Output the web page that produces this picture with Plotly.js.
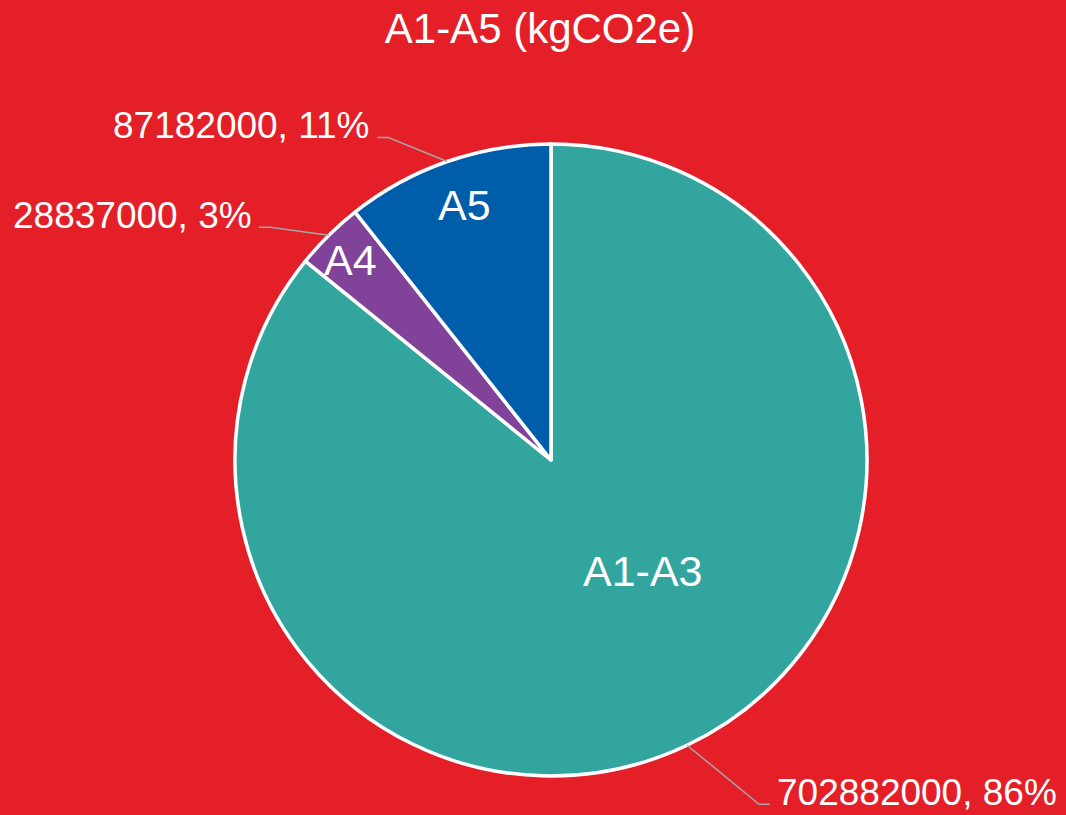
<!DOCTYPE html>
<html>
<head>
<meta charset="utf-8">
<script src="https://cdn.plot.ly/plotly-3.0.1.min.js"></script>
<style>
  html, body { margin: 0; padding: 0; background: #E41F28; }
  #chart { width: 1066px; height: 815px; }
</style>
</head>
<body>
<div id="chart"></div>
<script>
// Emissions by life-cycle stage, kgCO2e
const stages = ['A1-A3', 'A4', 'A5'];
const emissions = [702882000, 28837000, 87182000];
const sliceColors = ['#33A59F', '#81439A', '#005DAA'];

// Page and plot-area geometry (px)
const W = 1066, H = 815;
const M = { l: 100, r: 64, t: 144, b: 39 };
const plotW = W - M.l - M.r, plotH = H - M.t - M.b;
const cx = M.l + plotW / 2, cy = M.t + plotH / 2;
const R = Math.min(plotW, plotH) / 2;

// Leader-line elbow offset from the slice edge (px)
const leaderElbow = [[72, 59], [-59, -8], [-59, -24]];
// Inside name placement: [fraction of radius, angle shift in degrees from the slice middle]
const namePlacement = [[0.46, -13.7], [0.89, -0.7], [0.845, 0.2]];
const stub = 11, gap = 5;
const FONT = 'Liberation Sans, Arial, sans-serif';
const outFont = { family: FONT, size: 37, color: '#FFFFFF' };
const nameFont = { family: FONT, size: 43, color: '#FFFFFF' };

const toPaperX = px => (px - M.l) / plotW;
const toPaperY = py => (M.t + plotH - py) / plotH;

// Whole-number percentages that add up to 100 (largest remainder)
const total = emissions.reduce((a, b) => a + b, 0);
const rawPct = emissions.map(v => v / total * 100);
const pct = rawPct.map(Math.floor);
let left = 100 - pct.reduce((a, b) => a + b, 0);
rawPct.map((p, i) => [p - Math.floor(p), i])
  .sort((a, b) => b[0] - a[0])
  .slice(0, left)
  .forEach(([, i]) => { pct[i] += 1; });

const shapes = [];
const annotations = [];
let acc = 0;
emissions.forEach((v, i) => {
  const frac = v / total;
  const mid = (acc + frac / 2) * 2 * Math.PI; // clockwise from 12 o'clock
  acc += frac;

  // value, percent label with leader line
  const ex = cx + R * Math.sin(mid), ey = cy - R * Math.cos(mid);
  const bx = ex + leaderElbow[i][0], by = ey + leaderElbow[i][1];
  const side = leaderElbow[i][0] >= 0 ? 1 : -1;
  const hx = bx + side * stub;
  shapes.push({
    type: 'path', xref: 'paper', yref: 'paper',
    path: `M ${toPaperX(ex)},${toPaperY(ey)} L ${toPaperX(bx)},${toPaperY(by)} L ${toPaperX(hx)},${toPaperY(by)}`,
    line: { color: '#A6A6A6', width: 1.5 }
  });
  annotations.push({
    xref: 'paper', yref: 'paper',
    x: toPaperX(hx + side * gap), y: toPaperY(by - 12),
    xanchor: side > 0 ? 'left' : 'right', yanchor: 'middle',
    text: `${v}, ${pct[i]}%`,
    showarrow: false, font: outFont
  });

  // stage name inside the slice
  const a = mid + namePlacement[i][1] * Math.PI / 180;
  const rr = namePlacement[i][0] * R;
  annotations.push({
    xref: 'paper', yref: 'paper',
    x: toPaperX(cx + rr * Math.sin(a)), y: toPaperY(cy - rr * Math.cos(a) - 2),
    xanchor: 'center', yanchor: 'middle',
    text: stages[i], showarrow: false, font: nameFont
  });
});

const trace = {
  type: 'pie',
  labels: stages,
  values: emissions,
  sort: false,
  direction: 'clockwise',
  rotation: 0,
  marker: { colors: sliceColors, line: { color: '#FFFFFF', width: 3.5 } },
  textinfo: 'none',
  hoverinfo: 'label+value+percent',
  showlegend: false
};

const layout = {
  width: W, height: H,
  paper_bgcolor: '#E41F28',
  plot_bgcolor: '#E41F28',
  margin: M,
  title: {
    text: 'A1-A5 (kgCO2e)',
    font: { family: FONT, size: 42, color: '#FFFFFF' },
    x: 540 / W, xref: 'container', xanchor: 'center',
    y: 1 - 28 / H, yref: 'container', yanchor: 'middle'
  },
  shapes: shapes,
  annotations: annotations,
  showlegend: false
};

Plotly.newPlot('chart', [trace], layout, { displayModeBar: false, staticPlot: true });
</script>
</body>
</html>
